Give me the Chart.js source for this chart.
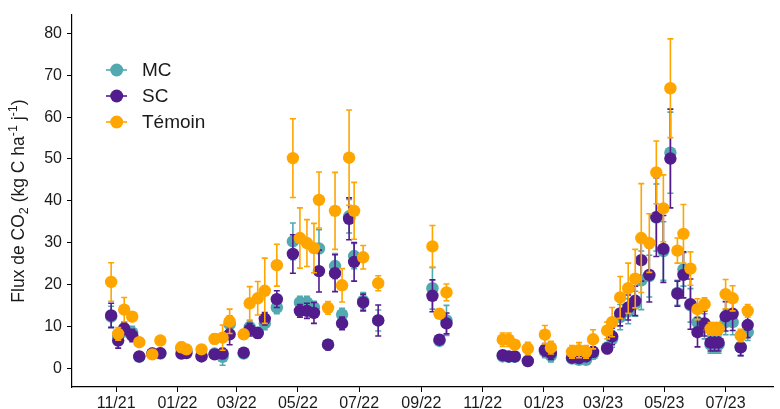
<!DOCTYPE html>
<html>
<head>
<meta charset="utf-8">
<script src="https://cdn.jsdelivr.net/npm/chart.js@4.4.0/dist/chart.umd.min.js"></script>
<style>
  html, body { margin: 0; padding: 0; background: #fff; }
  #wrap { width: 780px; height: 409px; }
</style>
</head>
<body>
<div id="wrap"><canvas id="flux-chart" width="780" height="409"></canvas></div>
<script>
// sampling dates
const dates = [
    '2021-10-27', '2021-11-03', '2021-11-09', '2021-11-17', '2021-11-24', '2021-12-07', '2021-12-15',
    '2022-01-05', '2022-01-10', '2022-01-25', '2022-02-07', '2022-02-15', '2022-02-22', '2022-03-08',
    '2022-03-14', '2022-03-22', '2022-03-29', '2022-04-10', '2022-04-26', '2022-05-03', '2022-05-10',
    '2022-05-17', '2022-05-22', '2022-05-31', '2022-06-07', '2022-06-14', '2022-06-21', '2022-06-26',
    '2022-07-05', '2022-07-20', '2022-09-12', '2022-09-19', '2022-09-26', '2022-11-21', '2022-11-27',
    '2022-12-03', '2022-12-16', '2023-01-02', '2023-01-08', '2023-01-29', '2023-02-05', '2023-02-12',
    '2023-02-19', '2023-03-05', '2023-03-10', '2023-03-18', '2023-03-26', '2023-04-02', '2023-04-08',
    '2023-04-16', '2023-04-23', '2023-04-30', '2023-05-07', '2023-05-14', '2023-05-20', '2023-05-27',
    '2023-06-03', '2023-06-10', '2023-06-16', '2023-06-20', '2023-06-24', '2023-07-01', '2023-07-08',
    '2023-07-16', '2023-07-23'
];

const temoin = [
    20.6, 8.2, 14.0, 12.3, 6.2, 3.3, 6.6,
    5.0, 4.5, 4.5, 7.0, 7.3, 11.2, 8.1,
    15.5, 16.7, 18.5, 24.6, 50.2, 31.1, 29.9,
    28.7, 40.2, 14.4, 37.6, 19.8, 50.3, 37.6,
    26.5, 20.3, 29.1, 13.0, 18.1, 6.8, 6.8,
    5.6, 4.7, 8.0, 4.9, 3.9, 4.3, 3.9,
    6.9, 9.0, 11.0, 16.9, 19.1, 21.4, 31.1,
    29.9, 46.8, 38.2, 66.9, 28.1, 32.1, 23.8,
    14.1, 15.3, 9.4, 9.4, 9.4, 17.7, 16.7,
    7.8, 13.7
];
const temoinErr = [
    4.6, 1.5, 2.9, 1.0, 1.0, 0.8, 0.8,
    1.2, 1.0, 0.8, 1.2, 3.0, 2.9, 1.0,
    4.0, 4.0, 7.8, 5.0, 9.4, 7.2, 5.6,
    5.9, 6.7, 1.5, 9.2, 4.0, 11.4, 6.8,
    2.8, 1.8, 5.0, 1.0, 2.0, 1.6, 1.6,
    1.0, 1.5, 2.2, 1.5, 1.5, 1.8, 1.5,
    2.3, 2.0, 3.5, 5.0, 6.0, 7.0, 13.0,
    7.0, 7.5, 8.0, 11.8, 3.0, 7.0, 4.0,
    2.5, 1.5, 1.5, 1.5, 1.5, 3.5, 3.0,
    1.5, 1.5
];

const sc = [
    12.6, 6.6, 9.5, 7.8, 2.8, 3.5, 3.6,
    3.5, 3.6, 2.8, 3.3, 3.5, 8.1, 3.7,
    9.2, 8.4, 11.8, 16.5, 27.3, 13.7, 13.7,
    13.2, 23.2, 5.6, 22.7, 10.7, 35.7, 25.4,
    15.7, 11.4, 17.3, 6.8, 10.7, 3.1, 2.8,
    2.8, 1.7, 4.4, 3.6, 2.5, 2.4, 2.8,
    3.9, 4.7, 7.6, 13.1, 14.5, 16.1, 25.8,
    22.3, 36.1, 28.5, 50.1, 17.8, 22.3, 15.3,
    8.6, 10.7, 6.1, 6.1, 6.1, 12.4, 13.0,
    5.0, 10.3
];
const scErr = [
    2.9, 1.8, 1.5, 1.5, 1.0, 0.8, 0.8,
    1.0, 1.0, 0.8, 0.7, 1.2, 2.5, 1.0,
    1.5, 1.2, 1.5, 2.0, 4.6, 1.5, 1.8,
    2.5, 5.0, 1.2, 4.4, 1.5, 5.0, 4.6,
    2.0, 3.7, 3.8, 1.0, 2.5, 1.0, 1.0,
    1.0, 0.8, 1.5, 1.5, 1.0, 1.0, 1.0,
    1.2, 1.2, 2.0, 3.0, 3.0, 3.5, 5.0,
    6.5, 9.4, 8.0, 11.8, 3.0, 5.5, 6.0,
    3.5, 3.0, 2.0, 2.0, 2.0, 3.5, 4.0,
    2.0, 3.0
];

const mc = [
    12.3, 7.5, 9.0, 8.5, 2.7, 3.5, 3.5,
    4.7, 4.2, 3.0, 3.5, 2.7, 10.5, 3.5,
    9.8, 8.5, 10.7, 14.5, 30.3, 15.7, 15.7,
    14.5, 28.6, 5.6, 24.4, 12.8, 36.3, 26.8,
    16.1, 11.4, 19.1, 6.5, 11.4, 2.8, 2.7,
    2.7, 1.7, 4.0, 3.0, 2.3, 2.0, 2.0,
    3.4, 4.9, 7.0, 12.2, 13.6, 15.4, 21.0,
    22.0, 36.0, 28.0, 51.5, 18.0, 23.6, 15.0,
    11.0, 10.0, 5.6, 5.6, 5.6, 11.0, 11.0,
    5.0, 8.6
];
const mcErr = [
    2.5, 1.5, 1.5, 1.5, 1.0, 0.8, 0.8,
    1.0, 1.0, 0.8, 0.7, 2.0, 2.0, 1.0,
    1.5, 1.2, 1.5, 1.5, 4.4, 1.5, 1.5,
    1.5, 4.5, 1.2, 3.0, 1.5, 4.0, 3.0,
    2.0, 2.5, 5.0, 1.0, 3.6, 1.0, 1.0,
    1.0, 0.8, 1.5, 1.5, 1.0, 1.0, 1.0,
    1.2, 1.2, 2.0, 3.0, 3.0, 3.0, 7.0,
    5.0, 8.0, 7.0, 9.7, 3.0, 4.0, 4.0,
    3.0, 3.0, 2.0, 2.0, 2.0, 3.0, 3.0,
    2.0, 2.0
];

const tickDates = ['2021-11-01', '2022-01-01', '2022-03-01', '2022-05-01', '2022-07-01', '2022-09-01',
    '2022-11-01', '2023-01-01', '2023-03-01', '2023-05-01', '2023-07-01'];
const tickLabels = ['11/21', '01/22', '03/22', '05/22', '07/22', '09/22',
    '11/22', '01/23', '03/23', '05/23', '07/23'];
const yTicks = [0, 10, 20, 30, 40, 50, 60, 70, 80];
const xRange = ['2021-09-18', '2023-08-18'];
const yRange = [-4.5, 84.5];

const colors = { mc: '#52A9B0', sc: '#521C8D', temoin: '#FFA500' };
const textColor = '#1a1a1a';

// days since epoch, so the x axis is plain linear
function toDay(s) {
    const p = s.split('-').map(Number);
    return Date.UTC(p[0], p[1] - 1, p[2]) / 86400000;
}

function makeSeries(label, values, errs, color, order) {
    return {
        label,
        data: dates.map((d, i) => ({ x: toDay(d), y: values[i], err: errs[i] })),
        backgroundColor: color,
        borderColor: color,
        pointRadius: 6.2,
        pointBorderWidth: 0,
        pointHoverRadius: 6.2,
        order
    };
}

// error bars, drawn right before each dataset's points
const errorBars = {
    id: 'errorBars',
    beforeDatasetDraw(chart, args) {
        const ds = chart.data.datasets[args.index];
        const xs = chart.scales.x, ys = chart.scales.y;
        const ctx = chart.ctx;
        ctx.save();
        ctx.strokeStyle = ds.borderColor;
        ctx.lineWidth = 1.6;
        ds.data.forEach(p => {
            const x = xs.getPixelForValue(p.x);
            const y1 = ys.getPixelForValue(p.y + p.err);
            const y2 = ys.getPixelForValue(Math.max(p.y - p.err, yRange[0]));
            ctx.beginPath();
            ctx.moveTo(x, y1); ctx.lineTo(x, y2);
            ctx.moveTo(x - 3, y1); ctx.lineTo(x + 3, y1);
            ctx.moveTo(x - 3, y2); ctx.lineTo(x + 3, y2);
            ctx.stroke();
        });
        ctx.restore();
    }
};

// legend and y title with sub/superscripts
const decorations = {
    id: 'decorations',
    afterDraw(chart) {
        const ctx = chart.ctx;
        ctx.save();
        const items = [['MC', colors.mc, 70], ['SC', colors.sc, 96], ['Témoin', colors.temoin, 122]];
        items.forEach(([label, color, y]) => {
            ctx.strokeStyle = color;
            ctx.fillStyle = color;
            ctx.lineWidth = 1.6;
            ctx.beginPath();
            ctx.moveTo(106, y); ctx.lineTo(127, y);
            ctx.stroke();
            ctx.beginPath();
            ctx.arc(116.7, y, 6.5, 0, Math.PI * 2);
            ctx.fill();
            ctx.fillStyle = textColor;
            ctx.font = '19px "Liberation Sans", Arial, sans-serif';
            ctx.textBaseline = 'middle';
            ctx.textAlign = 'left';
            ctx.fillText(label, 142, y + 1);
        });

        // y axis title, rotated
        const parts = [
            ['Flux de CO', 0, 17.5], ['2', 4, 12.5], [' (kg C ha', 0, 17.5], ['-1', -7, 12.5],
            [' j', 0, 17.5], ['-1', -7, 12.5], [')', 0, 17.5]
        ];
        ctx.translate(18, 201);
        ctx.rotate(-Math.PI / 2);
        let total = 0;
        parts.forEach(([t, , s]) => {
            ctx.font = s + 'px "Liberation Sans", Arial, sans-serif';
            total += ctx.measureText(t).width;
        });
        let x = -total / 2;
        ctx.textBaseline = 'alphabetic';
        ctx.fillStyle = textColor;
        parts.forEach(([t, dy, s]) => {
            ctx.font = s + 'px "Liberation Sans", Arial, sans-serif';
            ctx.fillText(t, x, 6 + dy);
            x += ctx.measureText(t).width;
        });
        ctx.restore();
    }
};

const tickFont = { family: '"Liberation Sans", Arial, sans-serif', size: 16 };

new Chart(document.getElementById('flux-chart'), {
    type: 'scatter',
    data: {
        datasets: [
            makeSeries('MC', mc, mcErr, colors.mc, 3),
            makeSeries('SC', sc, scErr, colors.sc, 2),
            makeSeries('Témoin', temoin, temoinErr, colors.temoin, 1)
        ]
    },
    options: {
        responsive: false,
        animation: false,
        devicePixelRatio: 1,
        layout: { padding: { top: 12, right: 0, left: 0, bottom: 0 } },
        plugins: {
            legend: { display: false },
            tooltip: { enabled: false }
        },
        scales: {
            x: {
                type: 'linear',
                min: toDay(xRange[0]),
                max: toDay(xRange[1]),
                afterBuildTicks: scale => {
                    scale.ticks = tickDates.map(d => ({ value: toDay(d) }));
                },
                afterFit: scale => { scale.height = 22; },
                grid: { drawOnChartArea: false, drawTicks: true, tickLength: 5, color: '#000' },
                border: { color: '#000', width: 1.2 },
                ticks: {
                    color: textColor,
                    font: tickFont,
                    padding: 2,
                    maxRotation: 0,
                    autoSkip: false,
                    callback: value => {
                        const i = tickDates.findIndex(d => toDay(d) === value);
                        return i >= 0 ? tickLabels[i] : '';
                    }
                }
            },
            y: {
                min: yRange[0],
                max: yRange[1],
                afterBuildTicks: scale => {
                    scale.ticks = yTicks.map(v => ({ value: v }));
                },
                afterFit: scale => { scale.width = 72; },
                grid: { drawOnChartArea: false, drawTicks: true, tickLength: 5, color: '#000' },
                border: { color: '#000', width: 1.2 },
                ticks: { color: textColor, font: tickFont, padding: 5 }
            }
        }
    },
    plugins: [errorBars, decorations]
});
</script>
</body>
</html>
